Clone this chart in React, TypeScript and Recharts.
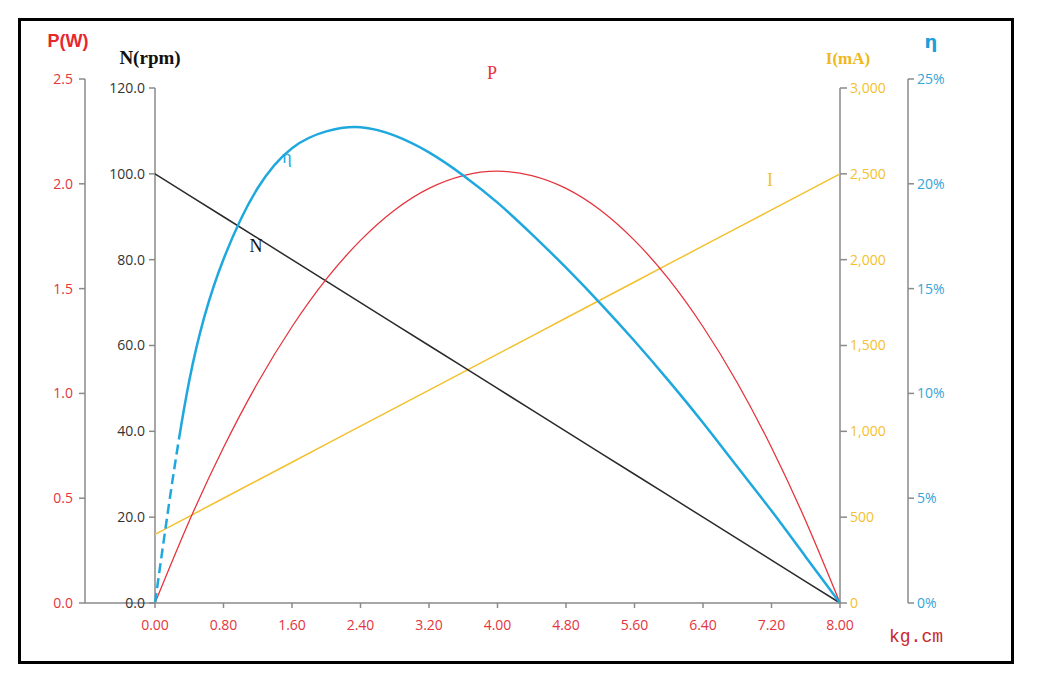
import { LineChart, Line, XAxis, YAxis, ReferenceLine } from "recharts";

// torque (kg.cm), evenly spaced so the splines stay smooth
const torque = [0, 0.4, 0.8, 1.2, 1.6, 2.0, 2.4, 2.8, 3.2, 3.6, 4.0, 4.4, 4.8, 5.2, 5.6, 6.0, 6.4, 6.8, 7.2, 7.6, 8.0];
const powerW = [0, 0.391, 0.742, 1.051, 1.318, 1.545, 1.73, 1.875, 1.978, 2.039, 2.06, 2.039, 1.978, 1.875, 1.73, 1.545, 1.318, 1.051, 0.742, 0.391, 0];
const speedRpm = [100, 95, 90, 85, 80, 75, 70, 65, 60, 55, 50, 45, 40, 35, 30, 25, 20, 15, 10, 5, 0];
const currentMa = [400, 505, 610, 715, 820, 925, 1030, 1135, 1240, 1345, 1450, 1555, 1660, 1765, 1870, 1975, 2080, 2185, 2290, 2395, 2500];
const efficiency = [0, 10.6, 16.4, 19.8, 21.7, 22.5, 22.7, 22.3, 21.5, 20.4, 19.1, 17.6, 16.0, 14.3, 12.5, 10.6, 8.6, 6.5, 4.4, 2.2, 0];

const xTicks = [0, 0.8, 1.6, 2.4, 3.2, 4.0, 4.8, 5.6, 6.4, 7.2, 8.0];
const powerTicks = [0, 0.5, 1.0, 1.5, 2.0, 2.5];
const speedTicks = [0, 20, 40, 60, 80, 100, 120];
const currentTicks = [0, 500, 1000, 1500, 2000, 2500, 3000];
const effTicks = [0, 5, 10, 15, 20, 25];

const data = torque.map((t, i) => ({
  t,
  P: powerW[i],
  N: speedRpm[i],
  I: currentMa[i],
  eta: efficiency[i],
}));

const RED = "#e4353d";
const BLUE = "#1fa8de";
const GOLD = "#f3c12e";
const AXIS = "#8a8a8a";

// N and I axes stop a bit lower than P and eta axes (ratio of their pixel heights)
const N_TOP = (120 * 524) / 515;
const I_TOP = (3000 * 524) / 515;

// the first ~165px of the efficiency curve is dashed, the rest solid
const ETA_DASH = [...Array(11).fill("10 5"), "4000 0"].join(" ");

const Text = ({ x, y, children, style }: { x: number; y: number; children: any; style: any }) => (
  <div
    style={{
      position: "absolute",
      left: x,
      top: y,
      transform: "translate(-50%, -50%)",
      whiteSpace: "nowrap",
      lineHeight: 1,
      ...style,
    }}
  >
    {children}
  </div>
);

const tickFont = { fontSize: 14, fontFamily: "Open Sans" };

export default function App() {
  return (
    <div style={{ position: "absolute", left: 0, top: 0, width: 1042, height: 678, background: "#fff", fontFamily: "Open Sans" }}>
      <div
        style={{
          position: "absolute",
          left: 18,
          top: 18,
          width: 996,
          height: 646,
          border: "3px solid #000",
          boxSizing: "border-box",
        }}
      />
      <div style={{ position: "absolute", left: 0, top: 0 }}>
        <LineChart width={1042} height={678} data={data} margin={{ top: 79, right: 84, bottom: 45, left: 35 }}>
          <XAxis
            dataKey="t"
            type="number"
            domain={[0, 8]}
            ticks={xTicks}
            interval={0}
            tickFormatter={(v: number) => v.toFixed(2)}
            height={30}
            stroke={AXIS}
            strokeWidth={1.5}
            tickSize={5}
            tickMargin={12}
            tick={{ ...tickFont, fill: RED }}
          />
          <YAxis
            yAxisId="N"
            orientation="left"
            width={70}
            domain={[0, N_TOP]}
            ticks={speedTicks}
            interval={0}
            tickFormatter={(v: number) => v.toFixed(1)}
            axisLine={false}
            tickLine={{ stroke: AXIS, strokeWidth: 1.5 }}
            tickSize={6}
            tickMargin={4}
            tick={{ ...tickFont, fill: "#333" }}
          />
          <YAxis
            yAxisId="P"
            orientation="left"
            width={50}
            domain={[0, 2.5]}
            ticks={powerTicks}
            interval={0}
            tickFormatter={(v: number) => v.toFixed(1)}
            stroke={AXIS}
            strokeWidth={1.5}
            tickSize={6}
            tickMargin={6}
            tick={{ ...tickFont, fill: RED }}
          />
          <YAxis
            yAxisId="I"
            orientation="right"
            width={68}
            domain={[0, I_TOP]}
            ticks={currentTicks}
            interval={0}
            tickFormatter={(v: number) => v.toLocaleString("en-US")}
            axisLine={false}
            tickLine={{ stroke: AXIS, strokeWidth: 1.5 }}
            tickSize={7}
            tickMargin={3}
            tick={{ ...tickFont, fill: GOLD }}
          />
          <YAxis
            yAxisId="eta"
            orientation="right"
            width={50}
            domain={[0, 25]}
            ticks={effTicks}
            interval={0}
            tickFormatter={(v: number) => `${v}%`}
            stroke={AXIS}
            strokeWidth={1.5}
            tickSize={6}
            tickMargin={3}
            tick={{ ...tickFont, fill: "#33a6d8" }}
          />

          {/* axis lines for N and I, and the x axis running out to the P axis */}
          <ReferenceLine yAxisId="N" segment={[{ x: 0, y: 0 }, { x: 0, y: 120 }]} stroke={AXIS} strokeWidth={1.5} />
          <ReferenceLine yAxisId="I" segment={[{ x: 8, y: 0 }, { x: 8, y: 3000 }]} stroke={AXIS} strokeWidth={1.5} />
          <ReferenceLine
            yAxisId="P"
            segment={[{ x: -0.82, y: 0 }, { x: 0, y: 0 }]}
            stroke={AXIS}
            strokeWidth={1.5}
            ifOverflow="visible"
          />

          <Line yAxisId="I" type="linear" dataKey="I" stroke={GOLD} strokeWidth={1.5} dot={false} activeDot={false} isAnimationActive={false} />
          <Line yAxisId="N" type="linear" dataKey="N" stroke="#2a2a2a" strokeWidth={1.5} dot={false} activeDot={false} isAnimationActive={false} />
          <Line yAxisId="P" type="natural" dataKey="P" stroke={RED} strokeWidth={1.3} dot={false} activeDot={false} isAnimationActive={false} />
          <Line
            yAxisId="eta"
            type="natural"
            dataKey="eta"
            stroke={BLUE}
            strokeWidth={2.5}
            strokeDasharray={ETA_DASH}
            dot={false}
            activeDot={false}
            isAnimationActive={false}
          />
        </LineChart>
      </div>

      {/* axis titles */}
      <Text x={68} y={41} style={{ color: "#e8262e", fontFamily: "Liberation Sans", fontWeight: 700, fontSize: 18 }}>P(W)</Text>
      <Text x={150} y={57} style={{ color: "#111", fontFamily: "Liberation Serif", fontWeight: 700, fontSize: 19 }}>N(rpm)</Text>
      <Text x={848} y={58} style={{ color: "#f0b81c", fontFamily: "Liberation Serif", fontWeight: 700, fontSize: 17 }}>I(mA)</Text>
      <Text x={931} y={42} style={{ color: "#1d9fd8", fontFamily: "DejaVu Sans", fontWeight: 700, fontSize: 18 }}>η</Text>
      <Text x={916} y={637} style={{ color: "#c8282e", fontFamily: "Liberation Mono", fontSize: 18 }}>kg.cm</Text>

      {/* curve labels */}
      <Text x={492} y={73} style={{ color: RED, fontFamily: "Liberation Serif", fontSize: 18 }}>P</Text>
      <Text x={287} y={157} style={{ color: BLUE, fontFamily: "Liberation Serif", fontSize: 18 }}>η</Text>
      <Text x={256} y={246} style={{ color: "#111", fontFamily: "Liberation Serif", fontSize: 18 }}>N</Text>
      <Text x={770} y={180} style={{ color: GOLD, fontFamily: "Liberation Serif", fontSize: 18 }}>I</Text>
    </div>
  );
}
